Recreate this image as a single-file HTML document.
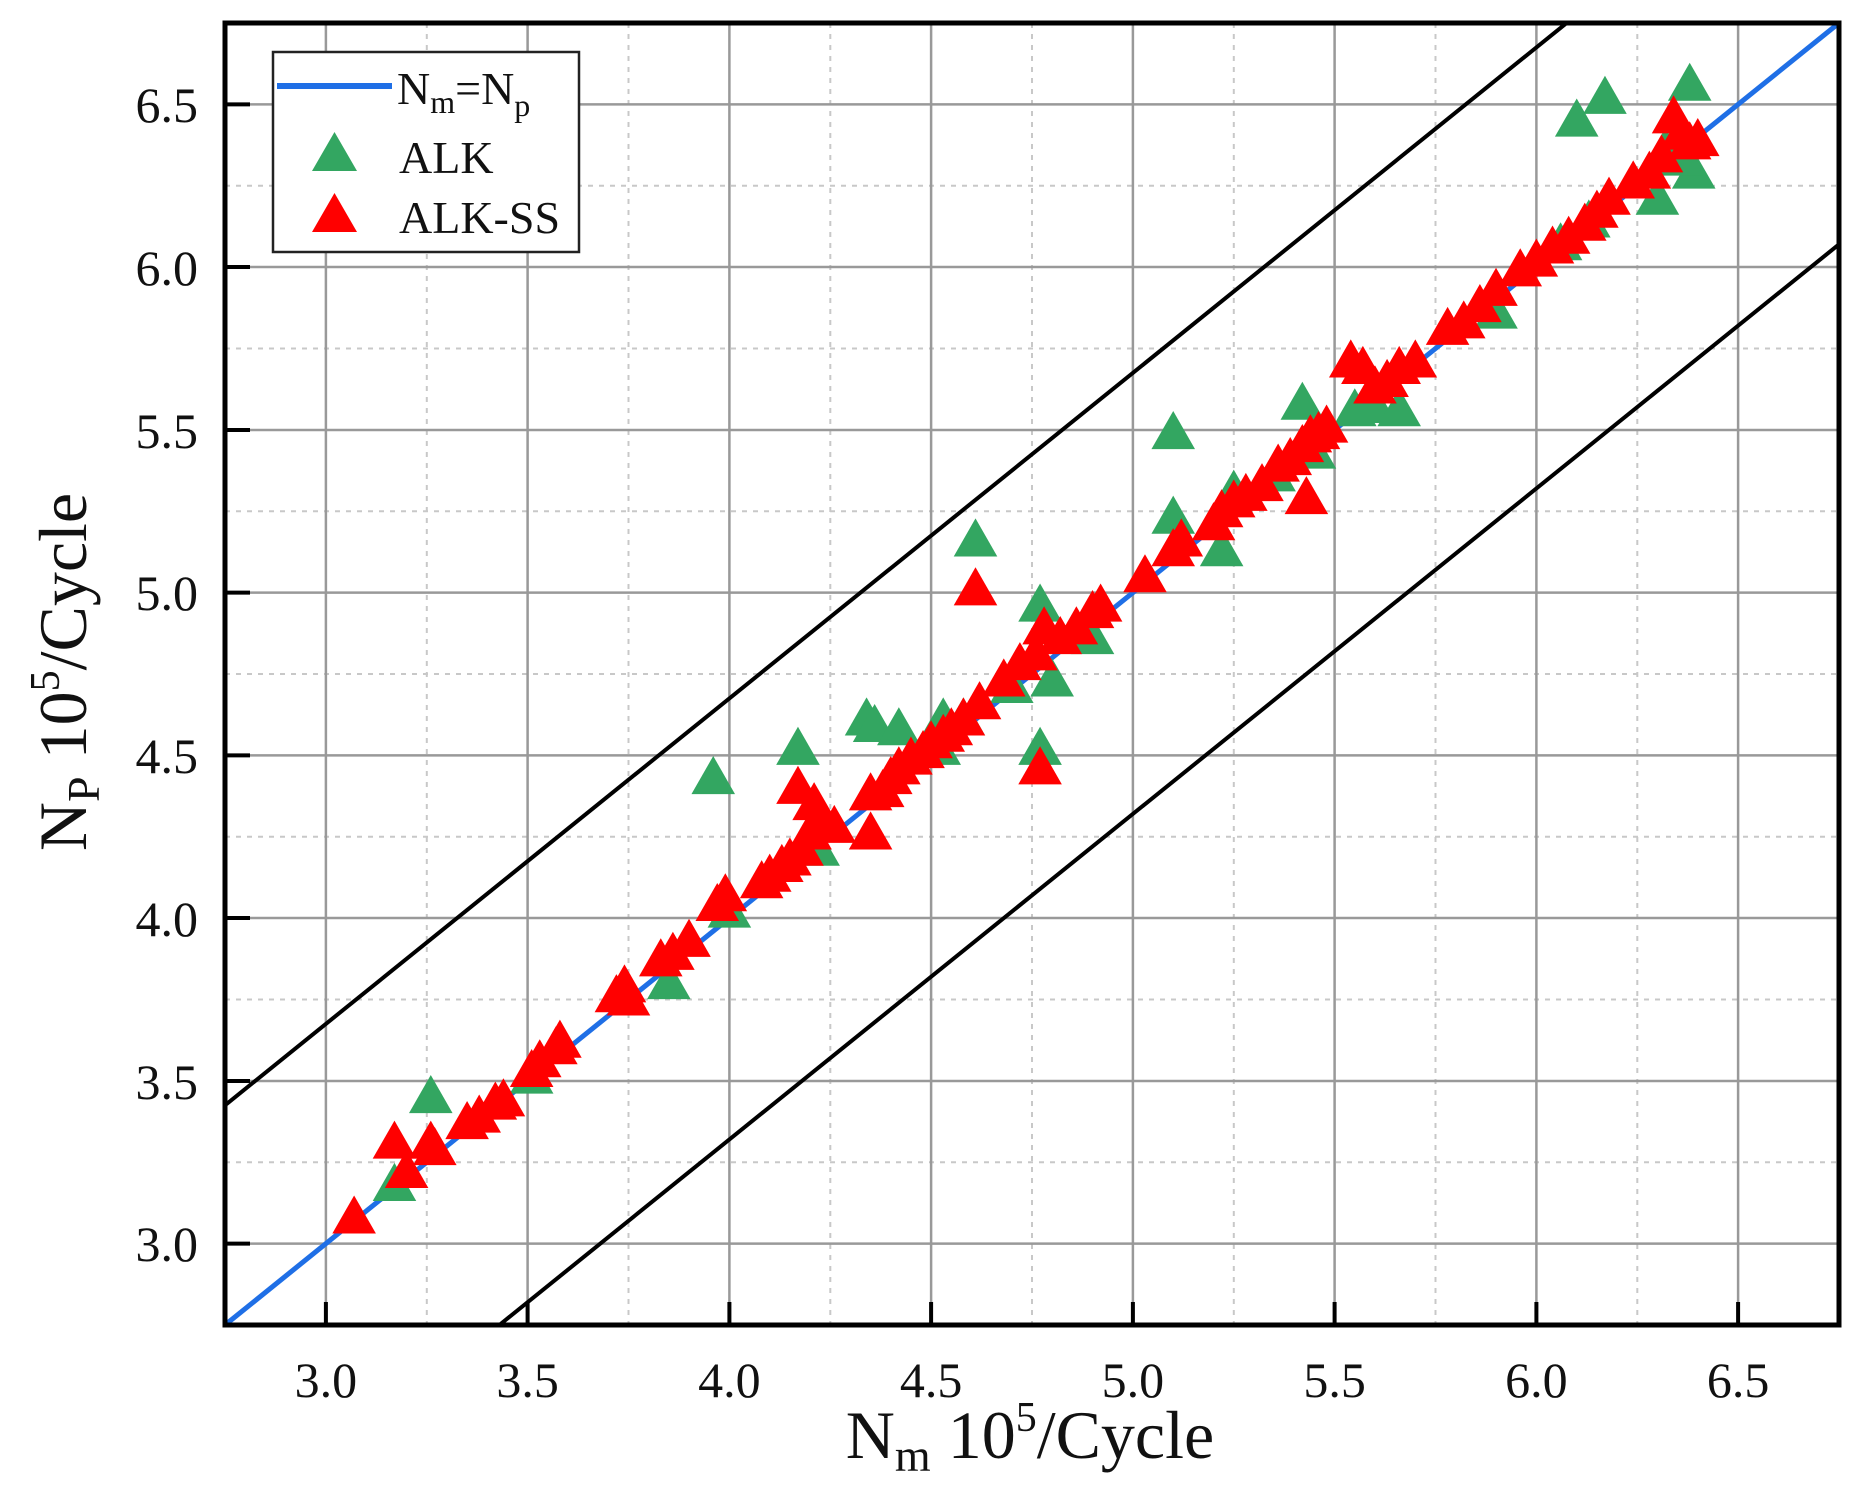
<!DOCTYPE html>
<html><head><meta charset="utf-8"><style>
html,body{margin:0;padding:0;background:#fff;}
svg{display:block;}
text{font-family:"Liberation Serif",serif;fill:#111;}
</style></head><body>
<svg width="1865" height="1498" viewBox="0 0 1865 1498" xmlns="http://www.w3.org/2000/svg">
<defs>
<polygon id="tg" points="-0.054,-0.039 0.054,-0.039 0,0.078" fill="#33a661"/>
<polygon id="tr" points="-0.054,-0.039 0.054,-0.039 0,0.078" fill="#ff0000"/>
<clipPath id="cp"><rect x="225" y="23" width="1614" height="1302"/></clipPath>
</defs>
<g stroke="#c8c8c8" stroke-width="2" stroke-dasharray="5,6">
<line x1="426.8" y1="23" x2="426.8" y2="1325"/><line x1="628.5" y1="23" x2="628.5" y2="1325"/>
<line x1="830.3" y1="23" x2="830.3" y2="1325"/><line x1="1032" y1="23" x2="1032" y2="1325"/>
<line x1="1233.8" y1="23" x2="1233.8" y2="1325"/><line x1="1435.5" y1="23" x2="1435.5" y2="1325"/>
<line x1="1637.3" y1="23" x2="1637.3" y2="1325"/>
<line x1="225" y1="1162.3" x2="1839" y2="1162.3"/><line x1="225" y1="999.5" x2="1839" y2="999.5"/>
<line x1="225" y1="836.8" x2="1839" y2="836.8"/><line x1="225" y1="674" x2="1839" y2="674"/>
<line x1="225" y1="511.3" x2="1839" y2="511.3"/><line x1="225" y1="348.5" x2="1839" y2="348.5"/>
<line x1="225" y1="185.8" x2="1839" y2="185.8"/>
</g>
<g stroke="#999" stroke-width="2.5">
<line x1="325.9" y1="23" x2="325.9" y2="1325"/><line x1="527.6" y1="23" x2="527.6" y2="1325"/>
<line x1="729.4" y1="23" x2="729.4" y2="1325"/><line x1="931.1" y1="23" x2="931.1" y2="1325"/>
<line x1="1132.9" y1="23" x2="1132.9" y2="1325"/><line x1="1334.6" y1="23" x2="1334.6" y2="1325"/>
<line x1="1536.4" y1="23" x2="1536.4" y2="1325"/><line x1="1738.1" y1="23" x2="1738.1" y2="1325"/>
<line x1="225" y1="1243.6" x2="1839" y2="1243.6"/><line x1="225" y1="1081" x2="1839" y2="1081"/>
<line x1="225" y1="918" x2="1839" y2="918"/><line x1="225" y1="755.4" x2="1839" y2="755.4"/>
<line x1="225" y1="592.6" x2="1839" y2="592.6"/><line x1="225" y1="430" x2="1839" y2="430"/>
<line x1="225" y1="267" x2="1839" y2="267"/><line x1="225" y1="104.4" x2="1839" y2="104.4"/>
</g>
<g clip-path="url(#cp)">
<g transform="translate(225,1325) scale(403.5,-325.5) translate(-2.75,-2.75)">
<line x1="2.75" y1="3.425" x2="6.1" y2="6.775" stroke="#000" stroke-width="4" vector-effect="non-scaling-stroke"/>
<line x1="3.43" y1="2.75" x2="6.8" y2="6.12" stroke="#000" stroke-width="4" vector-effect="non-scaling-stroke"/>
<line x1="2.75" y1="2.75" x2="6.75" y2="6.75" stroke="#1f6fe6" stroke-width="5" vector-effect="non-scaling-stroke"/>
<g>
<use href="#tg" x="3.17" y="3.17"/><use href="#tg" x="3.26" y="3.44"/><use href="#tg" x="3.51" y="3.50"/><use href="#tg" x="3.85" y="3.79"/><use href="#tg" x="3.96" y="4.42"/><use href="#tg" x="4.00" y="4.01"/><use href="#tg" x="4.17" y="4.51"/><use href="#tg" x="4.22" y="4.20"/><use href="#tg" x="4.34" y="4.60"/><use href="#tg" x="4.36" y="4.58"/><use href="#tg" x="4.42" y="4.57"/><use href="#tg" x="4.52" y="4.51"/><use href="#tg" x="4.53" y="4.60"/><use href="#tg" x="4.61" y="5.15"/><use href="#tg" x="4.58" y="4.60"/><use href="#tg" x="4.70" y="4.70"/><use href="#tg" x="4.77" y="4.95"/><use href="#tg" x="4.77" y="4.51"/><use href="#tg" x="4.80" y="4.72"/><use href="#tg" x="4.90" y="4.85"/><use href="#tg" x="5.10" y="5.48"/><use href="#tg" x="5.10" y="5.22"/><use href="#tg" x="5.22" y="5.12"/><use href="#tg" x="5.25" y="5.30"/><use href="#tg" x="5.35" y="5.35"/><use href="#tg" x="5.42" y="5.57"/><use href="#tg" x="5.45" y="5.42"/><use href="#tg" x="5.55" y="5.55"/><use href="#tg" x="5.60" y="5.56"/><use href="#tg" x="5.66" y="5.55"/><use href="#tg" x="5.90" y="5.85"/><use href="#tg" x="6.06" y="6.06"/><use href="#tg" x="6.10" y="6.44"/><use href="#tg" x="6.17" y="6.51"/><use href="#tg" x="6.13" y="6.13"/><use href="#tg" x="6.30" y="6.20"/><use href="#tg" x="6.32" y="6.35"/><use href="#tg" x="6.38" y="6.55"/><use href="#tg" x="6.39" y="6.28"/><use href="#tg" x="6.36" y="6.32"/>
</g>
<g>
<use href="#tr" x="3.07" y="3.07"/><use href="#tr" x="3.17" y="3.30"/><use href="#tr" x="3.20" y="3.21"/><use href="#tr" x="3.26" y="3.30"/><use href="#tr" x="3.27" y="3.28"/><use href="#tr" x="3.35" y="3.36"/><use href="#tr" x="3.38" y="3.38"/><use href="#tr" x="3.42" y="3.42"/><use href="#tr" x="3.44" y="3.43"/><use href="#tr" x="3.51" y="3.52"/><use href="#tr" x="3.53" y="3.55"/><use href="#tr" x="3.57" y="3.59"/><use href="#tr" x="3.58" y="3.61"/><use href="#tr" x="3.72" y="3.75"/><use href="#tr" x="3.74" y="3.78"/><use href="#tr" x="3.75" y="3.74"/><use href="#tr" x="3.83" y="3.86"/><use href="#tr" x="3.86" y="3.88"/><use href="#tr" x="3.90" y="3.92"/><use href="#tr" x="3.97" y="4.03"/><use href="#tr" x="3.99" y="4.06"/><use href="#tr" x="4.08" y="4.10"/><use href="#tr" x="4.10" y="4.12"/><use href="#tr" x="4.13" y="4.15"/><use href="#tr" x="4.15" y="4.17"/><use href="#tr" x="4.17" y="4.39"/><use href="#tr" x="4.18" y="4.20"/><use href="#tr" x="4.21" y="4.34"/><use href="#tr" x="4.23" y="4.28"/><use href="#tr" x="4.26" y="4.27"/><use href="#tr" x="4.20" y="4.25"/><use href="#tr" x="4.35" y="4.25"/><use href="#tr" x="4.35" y="4.37"/><use href="#tr" x="4.38" y="4.38"/><use href="#tr" x="4.40" y="4.42"/><use href="#tr" x="4.42" y="4.45"/><use href="#tr" x="4.45" y="4.48"/><use href="#tr" x="4.48" y="4.50"/><use href="#tr" x="4.50" y="4.53"/><use href="#tr" x="4.53" y="4.55"/><use href="#tr" x="4.55" y="4.57"/><use href="#tr" x="4.58" y="4.60"/><use href="#tr" x="4.62" y="4.65"/><use href="#tr" x="4.61" y="5.00"/><use href="#tr" x="4.68" y="4.72"/><use href="#tr" x="4.72" y="4.77"/><use href="#tr" x="4.76" y="4.80"/><use href="#tr" x="4.77" y="4.45"/><use href="#tr" x="4.78" y="4.88"/><use href="#tr" x="4.82" y="4.85"/><use href="#tr" x="4.86" y="4.88"/><use href="#tr" x="4.90" y="4.93"/><use href="#tr" x="4.92" y="4.95"/><use href="#tr" x="5.03" y="5.04"/><use href="#tr" x="5.10" y="5.12"/><use href="#tr" x="5.12" y="5.15"/><use href="#tr" x="5.20" y="5.20"/><use href="#tr" x="5.22" y="5.24"/><use href="#tr" x="5.25" y="5.27"/><use href="#tr" x="5.28" y="5.29"/><use href="#tr" x="5.32" y="5.32"/><use href="#tr" x="5.36" y="5.38"/><use href="#tr" x="5.39" y="5.40"/><use href="#tr" x="5.42" y="5.44"/><use href="#tr" x="5.44" y="5.47"/><use href="#tr" x="5.46" y="5.48"/><use href="#tr" x="5.48" y="5.50"/><use href="#tr" x="5.43" y="5.28"/><use href="#tr" x="5.54" y="5.70"/><use href="#tr" x="5.57" y="5.68"/><use href="#tr" x="5.60" y="5.62"/><use href="#tr" x="5.63" y="5.64"/><use href="#tr" x="5.66" y="5.68"/><use href="#tr" x="5.70" y="5.70"/><use href="#tr" x="5.78" y="5.80"/><use href="#tr" x="5.82" y="5.82"/><use href="#tr" x="5.86" y="5.87"/><use href="#tr" x="5.90" y="5.92"/><use href="#tr" x="5.96" y="5.98"/><use href="#tr" x="6.00" y="6.01"/><use href="#tr" x="6.04" y="6.05"/><use href="#tr" x="6.08" y="6.08"/><use href="#tr" x="6.12" y="6.12"/><use href="#tr" x="6.15" y="6.16"/><use href="#tr" x="6.18" y="6.20"/><use href="#tr" x="6.24" y="6.25"/><use href="#tr" x="6.28" y="6.28"/><use href="#tr" x="6.31" y="6.33"/><use href="#tr" x="6.34" y="6.45"/><use href="#tr" x="6.36" y="6.40"/><use href="#tr" x="6.38" y="6.37"/><use href="#tr" x="6.40" y="6.38"/>
</g>
</g>
</g>
<g stroke="#000" stroke-width="4">
<line x1="325.9" y1="1325" x2="325.9" y2="1302"/><line x1="527.6" y1="1325" x2="527.6" y2="1302"/><line x1="729.4" y1="1325" x2="729.4" y2="1302"/><line x1="931.1" y1="1325" x2="931.1" y2="1302"/><line x1="1132.9" y1="1325" x2="1132.9" y2="1302"/><line x1="1334.6" y1="1325" x2="1334.6" y2="1302"/><line x1="1536.4" y1="1325" x2="1536.4" y2="1302"/><line x1="1738.1" y1="1325" x2="1738.1" y2="1302"/>
<line x1="225" y1="1243.6" x2="250" y2="1243.6"/><line x1="225" y1="1081" x2="250" y2="1081"/><line x1="225" y1="918" x2="250" y2="918"/><line x1="225" y1="755.4" x2="250" y2="755.4"/><line x1="225" y1="592.6" x2="250" y2="592.6"/><line x1="225" y1="430" x2="250" y2="430"/><line x1="225" y1="267" x2="250" y2="267"/><line x1="225" y1="104.4" x2="250" y2="104.4"/>
</g>
<rect x="225" y="23" width="1614" height="1302" fill="none" stroke="#000" stroke-width="5"/>
<rect x="273" y="52" width="306" height="200" fill="#fff" stroke="#222" stroke-width="2.5"/>
<line x1="277" y1="86" x2="392" y2="86" stroke="#1f6fe6" stroke-width="6"/>
<text x="397" y="104" font-size="46">N<tspan font-size="32" dy="9">m</tspan><tspan dy="-9">=N</tspan><tspan font-size="32" dy="12">p</tspan></text>
<polygon points="312,171 357,171 334.5,132" fill="#33a661"/>
<text x="399" y="173" font-size="46">ALK</text>
<polygon points="312,232 357,232 334.5,193" fill="#ff0000"/>
<text x="399" y="233" font-size="46">ALK-SS</text>
<g font-size="50" text-anchor="middle">
<text x="325.9" y="1397">3.0</text><text x="527.6" y="1397">3.5</text><text x="729.4" y="1397">4.0</text><text x="931.1" y="1397">4.5</text><text x="1132.9" y="1397">5.0</text><text x="1334.6" y="1397">5.5</text><text x="1536.4" y="1397">6.0</text><text x="1738.1" y="1397">6.5</text>
</g>
<g font-size="50" text-anchor="end">
<text x="198" y="1261">3.0</text><text x="198" y="1099">3.5</text><text x="198" y="936">4.0</text><text x="198" y="773">4.5</text><text x="198" y="610">5.0</text><text x="198" y="448">5.5</text><text x="198" y="285">6.0</text><text x="198" y="122">6.5</text>
</g>
<text x="1030" y="1458" font-size="68" text-anchor="middle">N<tspan font-size="46" dy="13">m</tspan><tspan dy="-13"> 10</tspan><tspan font-size="42" dy="-27">5</tspan><tspan dy="27">/Cycle</tspan></text>
<text transform="translate(86,672) rotate(-90)" font-size="68" text-anchor="middle">N<tspan font-size="46" dy="13">P</tspan><tspan dy="-13"> 10</tspan><tspan font-size="42" dy="-27">5</tspan><tspan dy="27">/Cycle</tspan></text>
</svg>
</body></html>
